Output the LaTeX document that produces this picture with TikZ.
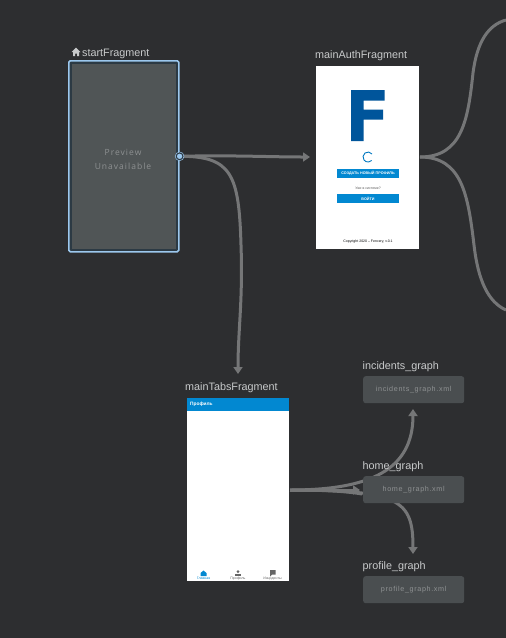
\documentclass[tikz,border=0pt]{standalone}
\usepackage{fontspec}
\setmainfont{Liberation Sans}
\newfontfamily\xmlfont[LetterSpace=9]{Liberation Sans}
\newfontfamily\prevfont[LetterSpace=12]{Open Sans}
\usetikzlibrary{arrows.meta}
\definecolor{bgc}{HTML}{2D2E30}
\definecolor{linec}{HTML}{757677}
\definecolor{selc}{HTML}{9CC8EE}
\definecolor{ringc}{HTML}{2C3A44}
\definecolor{prevc}{HTML}{505556}
\definecolor{boxc}{HTML}{4A4E50}
\definecolor{labc}{HTML}{C8CACB}
\definecolor{xmlc}{HTML}{8E9192}
\definecolor{blu}{HTML}{0288D1}
\definecolor{fblue}{HTML}{00559B}
\tikzset{
  x=1pt,y=-1pt,
  conn/.style={draw=linec,line width=3pt},
  arr/.style={conn,-{Triangle[length=7pt,width=9pt]}},
  lab/.style={text=labc,font=\fontsize{10.8}{13}\selectfont,anchor=base west,inner sep=0pt},
  screen/.style={fill=white,draw=none,minimum width=#1,inner sep=0pt,anchor=north west},
  graphbox/.style={fill=boxc,rounded corners=2.5pt,minimum width=101pt,minimum height=27pt,inner sep=0pt,anchor=north west,text=xmlc,font=\xmlfont\fontsize{7.2}{8}\selectfont},
  btn/.style={fill=blu,minimum width=62pt,minimum height=9pt,inner sep=0pt,text=white,font=\fontsize{3.7}{4}\selectfont\bfseries},
  tiny/.style={inner sep=0pt,font=\fontsize{3.5}{4}\selectfont},
}
\begin{document}
\begin{tikzpicture}
\useasboundingbox[fill=bgc] (0,0) rectangle (506,638);
% free ends and tips
\coordinate (offup) at (506,20);
\coordinate (offdown) at (506,310);
\coordinate (authout) at (420,157);
\coordinate (authin) at (310,157);
\coordinate (tabsin) at (238,374);
\coordinate (tabsout) at (290,490);
\coordinate (incin) at (413,409);
\coordinate (profin) at (413,554);
\coordinate (homein) at (360,490);
% nodes
\node[draw=selc,line width=1.6pt,fill=ringc,rounded corners=1.5pt,minimum width=110pt,minimum height=191pt,inner sep=0pt,anchor=north west] (start) at (68,60) {};
\node[fill=prevc,minimum width=104pt,minimum height=185pt,inner sep=0pt] (prev) at (start.center) {};
\node[inner sep=0pt,align=center,text=xmlc,font=\prevfont\fontsize{8.5}{14}\selectfont] (prevtext) at (123,159) {Preview\\Unavailable};
\node[screen=103pt,minimum height=183pt] (auth) at (316,66) {};
\node[screen=102pt,minimum height=183pt] (tabs) at (187,398) {};
\coordinate (hand) at (start.east);
% connectors
\draw[arr] (hand) .. controls (230,155) and (270,157) .. (authin);
\draw[arr] (hand) .. controls (232,156) and (239,175) .. (241,245) .. controls (243,300) and (238,330) .. (tabsin);
\draw[conn] (authout) .. controls (462,157) and (468,120) .. (473,73) .. controls (477,42) and (488,25) .. (offup);
\draw[conn] (authout) .. controls (462,157) and (468,195) .. (474,245) .. controls (478,280) and (488,302) .. (offdown);
\draw[arr] (tabsout) .. controls (370,490) and (413,470) .. (incin);
\draw[arr] (tabsout) .. controls (400,490) and (413,500) .. (profin);
\draw[conn] (tabsout) .. controls (320,490) and (345,491) .. (362,494);
\draw[arr] (tabsout) -- (homein);
% graph boxes
\node[graphbox] (inc) at (363,376) {incidents\_graph.xml};
\node[graphbox] (home) at (363,476) {home\_graph.xml};
\node[graphbox] (prof) at (363,576) {profile\_graph.xml};
% handle
\node[circle,fill=selc,draw=ringc,line width=1.3pt,minimum size=7pt,inner sep=0pt] (handle) at (hand) {};
\draw[selc,line width=.5pt] (handle) circle (4.4pt);
% labels
\node[lab] (l1) at (82,56) {startFragment};
\fill[labc] (71.5,52) -- (76,47.5) -- (80.5,52) -- (79,52) -- (79,56) -- (77,56) -- (77,53.5) -- (75,53.5) -- (75,56) -- (73,56) -- (73,52) -- cycle;
\node[lab] (l2) at (315,58) {mainAuthFragment};
\node[lab] (l3) at (185,390) {mainTabsFragment};
\node[lab] (l4) at (362.5,369) {incidents\_graph};
\node[lab] (l5) at (362.5,469) {home\_graph};
\node[lab] (l6) at (362.5,569) {profile\_graph};
% auth screen content
\fill[fblue] (351,90) -- (384.5,90) -- (384.5,100.5) -- (363.5,100.5) -- (363.5,109.5) -- (383,109.5) -- (383,119.5) -- (363.5,119.5) -- (363.5,141) -- (351,141) -- cycle;
\draw[blu!70!fblue,line width=.9pt] (372,154) arc (-37:-317:5);
\node[btn] (b1) at (368,173.5) {СОЗДАТЬ НОВЫЙ ПРОФИЛЬ};
\node[tiny,text=black!65] (t1) at (368,188.5) {Уже в системе?};
\node[btn] (b2) at (368,198.5) {ВОЙТИ};
\node[tiny,text=black] (t2) at (368,241.5) {Copyright 2020 – Fencery, v.0.1};
% tabs screen content
\fill[blu] (187,398) rectangle (289,411);
\node[inner sep=0pt,anchor=west,text=white,font=\fontsize{4.8}{5}\selectfont\bfseries] (t3) at (190,404.5) {Профиль};
\fill[blu] (200.5,573) -- (203.5,570.5) -- (206.5,573) -- (206.5,576) -- (200.5,576) -- cycle;
\fill[black!60] (238,571.5) circle (1.5pt);
\fill[black!60] (235,576) -- (235,574.2) -- (241,574.2) -- (241,576) -- cycle;
\fill[black!60] (270,570) rectangle (275.5,574.5) (270,574) -- (270,576.5) -- (272.5,574) -- cycle;
\node[tiny,text=blu] (t4) at (203.5,578.5) {Главная};
\node[tiny,text=black!60] (t5) at (238,578.5) {Профиль};
\node[tiny,text=black!60] (t6) at (272.5,578.5) {Инциденты};
\end{tikzpicture}
\end{document}
